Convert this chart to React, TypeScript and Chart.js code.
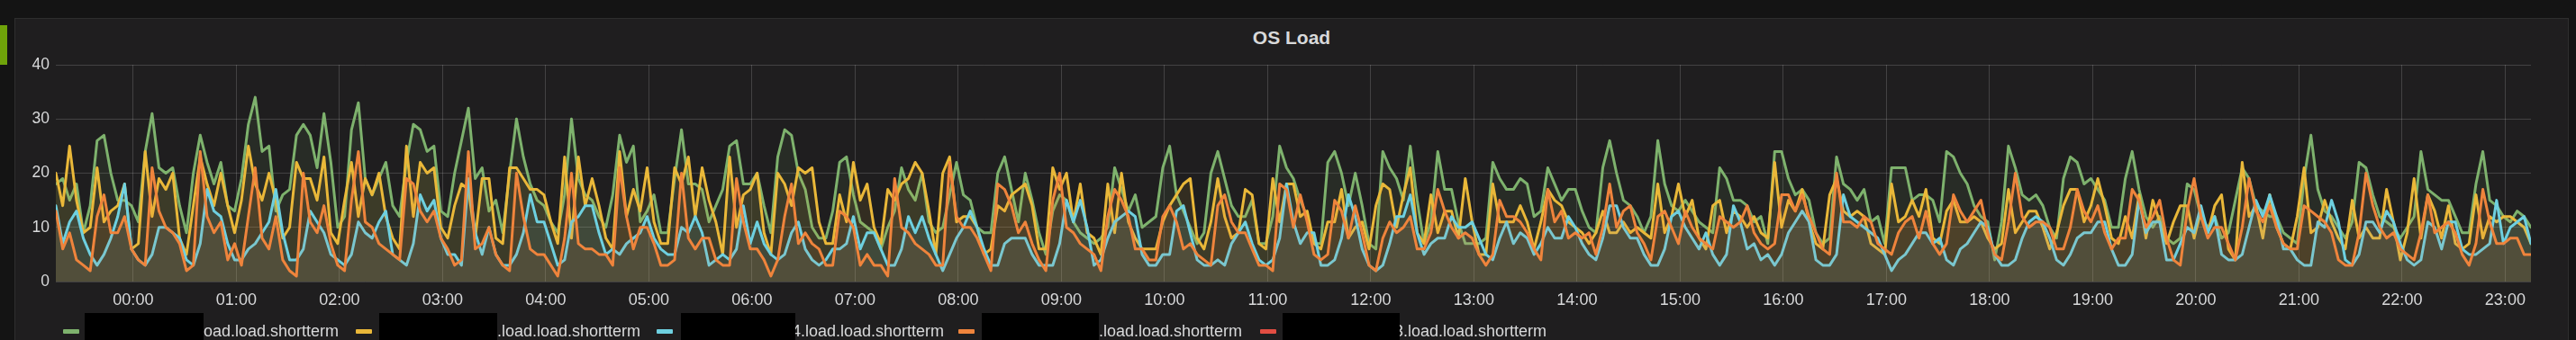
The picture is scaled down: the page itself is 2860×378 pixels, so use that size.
import React, { useEffect, useRef } from 'react';
import { Chart, registerables } from 'chart.js';

Chart.register(...registerables);

// Time axis: minutes relative to 00:00, one sample every 4 minutes from 23:15 (previous day)
const startMinute = -45;
const stepMinutes = 4;
const rangeMin = -45;
const rangeMax = 1395;

const hourTickMinutes = [0, 60, 120, 180, 240, 300, 360, 420, 480, 540, 600, 660, 720, 780, 840, 900, 960, 1020, 1080, 1140, 1200, 1260, 1320, 1380];
const hourLabels = ['00:00', '01:00', '02:00', '03:00', '04:00', '05:00', '06:00', '07:00', '08:00', '09:00', '10:00', '11:00', '12:00', '13:00', '14:00', '15:00', '16:00', '17:00', '18:00', '19:00', '20:00', '21:00', '22:00', '23:00'];
const yTickValues = [0, 10, 20, 30, 40];

const greenLoad = [
  18, 19, 15, 18, 9, 14, 26, 27, 20, 15, 15, 14, 11, 24, 31, 21, 20, 21, 14, 9, 20, 27, 22, 18, 22, 14, 13, 19, 29, 34, 24, 25, 13, 16, 17, 27, 29, 27, 21, 31, 22, 10, 12, 28, 33, 19, 16, 19, 22, 14, 12, 22, 29, 28, 24, 25, 13, 12, 20, 26,
  32, 19, 21, 13, 15, 9, 20, 30, 23, 18, 15, 14, 11, 9, 16, 30, 19, 16, 15, 12, 10, 16, 27, 22, 25, 11, 13, 16, 9, 9, 19, 28, 18, 18, 17, 11, 14, 17, 25, 26, 18, 18, 20, 14, 9, 23, 28, 27, 20, 17, 10, 8, 8, 13, 22, 23, 16, 11, 10, 9,
  6, 10, 13, 21, 17, 15, 20, 11, 9, 10, 16, 22, 16, 15, 10, 9, 9, 20, 23, 17, 11, 20, 15, 9, 5, 13, 16, 15, 11, 9, 8, 7, 8, 10, 21, 17, 13, 16, 10, 11, 12, 21, 25, 16, 13, 10, 7, 9, 20, 24, 19, 14, 12, 12, 15, 7, 7, 12, 25, 21,
  19, 15, 12, 7, 7, 22, 24, 20, 14, 20, 14, 7, 6, 24, 21, 19, 15, 25, 15, 7, 11, 24, 17, 17, 11, 7, 7, 7, 8, 22, 19, 17, 17, 19, 18, 12, 13, 21, 18, 15, 17, 17, 13, 10, 9, 21, 26, 20, 15, 14, 12, 9, 12, 26, 18, 14, 13, 15, 13, 11,
  10, 9, 21, 19, 15, 15, 14, 11, 12, 7, 24, 24, 19, 16, 17, 15, 9, 7, 8, 23, 18, 17, 15, 17, 11, 12, 7, 21, 21, 21, 15, 16, 16, 15, 11, 24, 23, 20, 18, 14, 12, 11, 4, 11, 25, 21, 16, 15, 16, 14, 10, 8, 19, 23, 22, 18, 19, 17, 15, 10,
  10, 19, 24, 17, 12, 10, 12, 8, 7, 8, 18, 17, 12, 10, 12, 8, 9, 15, 21, 19, 14, 13, 12, 12, 9, 8, 7, 19, 27, 17, 13, 12, 10, 8, 11, 22, 21, 16, 12, 11, 10, 8, 10, 12, 24, 17, 16, 15, 15, 12, 9, 9, 18, 24, 15, 14, 12, 11, 13, 12, 10,
];

const yellowLoad = [
  20, 14, 25, 15, 9, 10, 21, 11, 13, 14, 18, 6, 7, 24, 12, 19, 17, 20, 8, 5, 14, 23, 18, 14, 20, 14, 9, 15, 25, 18, 15, 20, 15, 8, 10, 22, 19, 19, 15, 23, 9, 7, 15, 22, 12, 19, 16, 20, 12, 8, 6, 25, 12, 22, 20, 21, 10, 8, 14, 18,
  17, 8, 19, 19, 8, 7, 21, 21, 19, 17, 17, 16, 11, 7, 23, 8, 23, 14, 19, 14, 8, 6, 24, 12, 17, 13, 21, 11, 7, 7, 21, 18, 23, 12, 21, 15, 11, 5, 23, 10, 16, 17, 20, 9, 5, 20, 18, 14, 21, 20, 21, 11, 7, 7, 16, 11, 22, 15, 18, 10,
  7, 17, 15, 18, 19, 22, 20, 13, 5, 20, 23, 11, 12, 12, 10, 5, 6, 14, 13, 16, 17, 18, 14, 6, 6, 21, 17, 20, 11, 18, 9, 8, 5, 18, 9, 20, 11, 8, 6, 6, 6, 11, 14, 16, 18, 19, 8, 6, 11, 19, 12, 8, 9, 17, 16, 7, 6, 19, 11, 18,
  18, 12, 13, 7, 6, 11, 11, 17, 8, 10, 11, 6, 14, 18, 17, 10, 16, 21, 9, 7, 16, 9, 13, 13, 8, 19, 11, 5, 5, 18, 11, 11, 11, 14, 11, 6, 11, 17, 15, 14, 11, 10, 9, 7, 9, 13, 9, 9, 11, 9, 10, 9, 8, 18, 9, 12, 18, 12, 15, 8,
  6, 14, 15, 9, 13, 12, 10, 12, 9, 8, 22, 10, 15, 13, 17, 11, 7, 6, 16, 19, 13, 12, 13, 12, 7, 6, 5, 18, 11, 12, 15, 12, 17, 8, 7, 13, 15, 11, 11, 12, 11, 8, 6, 7, 17, 9, 11, 13, 13, 10, 6, 9, 14, 17, 17, 11, 14, 19, 14, 8,
  7, 12, 8, 16, 8, 15, 11, 7, 11, 14, 14, 8, 13, 9, 14, 16, 6, 4, 22, 12, 14, 8, 16, 10, 7, 6, 12, 21, 9, 10, 15, 11, 8, 6, 15, 8, 10, 8, 8, 17, 11, 4, 9, 19, 8, 16, 13, 8, 14, 7, 6, 7, 16, 8, 12, 11, 12, 12, 11, 10, 7,
];

const cyanLoad = [
  14, 7, 11, 13, 8, 5, 3, 5, 8, 12, 18, 6, 4, 3, 5, 10, 10, 9, 8, 4, 3, 7, 17, 13, 12, 7, 4, 4, 6, 7, 9, 11, 17, 9, 4, 4, 6, 13, 11, 9, 5, 4, 3, 5, 11, 9, 8, 11, 13, 5, 4, 3, 7, 16, 13, 15, 8, 5, 5, 3,
  19, 9, 5, 10, 5, 3, 3, 5, 9, 16, 11, 11, 7, 3, 4, 11, 12, 14, 14, 9, 5, 6, 5, 7, 8, 9, 12, 8, 6, 5, 5, 10, 9, 12, 9, 3, 4, 5, 4, 6, 14, 7, 11, 7, 5, 4, 5, 9, 11, 6, 4, 3, 4, 6, 6, 7, 12, 6, 9, 9,
  6, 3, 3, 6, 12, 9, 12, 8, 5, 2, 5, 8, 10, 13, 10, 6, 3, 3, 7, 8, 8, 8, 5, 3, 3, 3, 7, 15, 11, 15, 10, 3, 4, 8, 11, 12, 13, 12, 5, 3, 3, 5, 5, 13, 14, 9, 4, 3, 3, 4, 3, 7, 9, 11, 7, 4, 3, 4, 8, 18,
  11, 7, 9, 9, 3, 3, 4, 8, 16, 12, 6, 3, 2, 3, 7, 12, 12, 16, 9, 5, 7, 8, 8, 12, 10, 10, 11, 8, 5, 4, 8, 11, 7, 9, 8, 5, 7, 10, 8, 8, 12, 10, 7, 5, 4, 8, 14, 14, 10, 8, 8, 5, 3, 3, 6, 12, 13, 10, 8, 6,
  9, 5, 3, 5, 14, 11, 6, 7, 4, 5, 3, 5, 9, 11, 13, 11, 4, 3, 3, 5, 16, 12, 11, 10, 9, 8, 5, 2, 4, 5, 7, 9, 9, 7, 8, 4, 3, 6, 7, 9, 11, 10, 5, 3, 3, 4, 8, 11, 12, 11, 8, 4, 3, 5, 8, 9, 9, 11, 11, 6,
  3, 3, 5, 15, 9, 11, 11, 4, 4, 7, 10, 9, 14, 9, 12, 5, 4, 4, 5, 10, 15, 12, 16, 12, 6, 6, 4, 3, 3, 11, 10, 15, 11, 4, 3, 5, 11, 11, 9, 13, 11, 7, 4, 3, 4, 11, 10, 6, 11, 11, 6, 5, 5, 6, 7, 15, 7, 10, 11, 12, 7,
];

const orangeLoad = [
  13, 6, 9, 4, 3, 2, 12, 16, 9, 9, 12, 6, 4, 3, 21, 13, 10, 9, 7, 2, 3, 24, 12, 9, 11, 4, 7, 3, 12, 21, 8, 6, 12, 4, 2, 1, 20, 11, 9, 14, 7, 3, 2, 15, 24, 11, 10, 7, 6, 5, 4, 19, 18, 13, 11, 13, 8, 6, 3, 4,
  24, 6, 7, 10, 5, 3, 2, 20, 12, 6, 5, 5, 3, 1, 8, 20, 7, 6, 6, 5, 5, 3, 21, 12, 6, 10, 10, 7, 3, 3, 4, 20, 8, 6, 8, 8, 4, 3, 3, 19, 11, 6, 6, 4, 1, 4, 12, 18, 7, 9, 7, 6, 3, 3, 13, 12, 10, 3, 5, 3,
  3, 1, 19, 10, 9, 7, 6, 5, 3, 3, 22, 12, 10, 10, 8, 5, 2, 18, 17, 14, 9, 11, 7, 4, 2, 15, 20, 10, 9, 7, 6, 5, 2, 12, 17, 15, 12, 6, 6, 4, 4, 12, 14, 11, 6, 7, 5, 4, 3, 14, 16, 11, 9, 9, 6, 3, 3, 2, 18, 17,
  10, 16, 11, 5, 4, 5, 15, 13, 8, 14, 9, 3, 2, 8, 11, 9, 10, 12, 6, 6, 9, 17, 13, 10, 8, 9, 8, 5, 3, 5, 15, 12, 12, 11, 9, 6, 4, 17, 11, 13, 8, 9, 8, 9, 5, 10, 18, 10, 13, 14, 9, 7, 4, 12, 13, 10, 7, 13, 10, 8,
  7, 6, 12, 11, 10, 11, 14, 9, 7, 6, 7, 16, 16, 13, 16, 12, 9, 6, 5, 20, 11, 11, 10, 12, 11, 7, 6, 5, 9, 11, 12, 8, 13, 7, 5, 7, 16, 13, 11, 13, 15, 9, 5, 4, 11, 20, 12, 10, 11, 11, 10, 6, 6, 10, 17, 13, 11, 14, 9, 6,
  8, 8, 17, 15, 10, 12, 15, 8, 4, 3, 13, 19, 12, 8, 10, 10, 7, 4, 10, 19, 13, 11, 14, 10, 7, 6, 6, 14, 13, 12, 11, 9, 4, 3, 3, 9, 20, 14, 10, 8, 9, 6, 5, 4, 9, 16, 9, 10, 11, 9, 5, 3, 7, 17, 11, 7, 7, 8, 8, 5, 5,
];

const redLoad: number[] = [];

const seriesColors = ['#7EB26D', '#EAB839', '#6ED0E0', '#EF843C', '#E24D42'];
const seriesFills = ['rgba(126,178,109,0.1)', 'rgba(234,184,57,0.1)', 'rgba(110,208,224,0.1)', 'rgba(239,132,60,0.1)', 'rgba(226,77,66,0.1)'];
const seriesLabels = ['oad.load.shortterm', '.load.load.shortterm', '4.load.load.shortterm', '.load.load.shortterm', '3.load.load.shortterm'];

// legend layout (left edges in px of swatch, redaction box start/end, text start)
const legendLayout = [
  { swatch: 70, boxL: 94, boxR: 226, text: 226 },
  { swatch: 395, boxL: 421, boxR: 552, text: 552 },
  { swatch: 729, boxL: 756, boxR: 883, text: 879 },
  { swatch: 1064, boxL: 1090, boxR: 1220, text: 1220 },
  { swatch: 1399, boxL: 1424, boxR: 1554, text: 1548 },
];

const FONT = '"Liberation Sans", Arial, Helvetica, sans-serif';
const TEXT = '#d8d9da';
const GRID = 'rgba(255,255,255,0.16)';

function toPoints(values: number[]) {
  return values.map((v, i) => ({ x: startMinute + i * stepMinutes, y: v }));
}

export default function App() {
  const canvasRef = useRef<HTMLCanvasElement | null>(null);

  useEffect(() => {
    document.body.style.margin = '0';
    document.body.style.background = '#141414';
    const canvas = canvasRef.current;
    if (!canvas) return;
    const all = [greenLoad, yellowLoad, cyanLoad, orangeLoad, redLoad];
    const datasets = all.map((vals, i) => ({
      label: seriesLabels[i],
      data: toPoints(vals),
      borderColor: seriesColors[i],
      backgroundColor: seriesFills[i],
      borderWidth: 3,
      borderJoinStyle: 'round',
      borderCapStyle: 'round',
      fill: 'origin',
      pointRadius: 0,
      tension: 0,
      order: all.length - i,
    }));
    const chart = new Chart(canvas, {
      type: 'line',
      data: { datasets: datasets as any },
      options: {
        animation: false,
        responsive: false,
        maintainAspectRatio: false,
        devicePixelRatio: 1,
        parsing: false as any,
        normalized: true,
        layout: { padding: { left: 0, right: 50, top: 72, bottom: 0 } },
        plugins: {
          legend: { display: false },
          tooltip: { enabled: false },
          title: { display: false },
        },
        scales: {
          x: {
            type: 'linear',
            min: rangeMin,
            max: rangeMax,
            afterBuildTicks: (axis: any) => {
              axis.ticks = hourTickMinutes.map((v) => ({ value: v }));
            },
            afterFit: (scale: any) => {
              scale.height = 65;
            },
            ticks: {
              autoSkip: false,
              maxRotation: 0,
              minRotation: 0,
              padding: 10,
              color: TEXT,
              font: { family: FONT, size: 18 },
              callback: (_v: any, idx: number) => hourLabels[idx],
            },
            grid: { color: GRID, drawTicks: false, lineWidth: 1 },
            border: { display: false },
          },
          y: {
            min: 0,
            max: 40,
            afterBuildTicks: (axis: any) => {
              axis.ticks = yTickValues.map((v) => ({ value: v }));
            },
            afterFit: (scale: any) => {
              scale.width = 62;
            },
            ticks: {
              padding: 7,
              color: TEXT,
              font: { family: FONT, size: 17.5 },
              callback: (v: any) => String(v),
            },
            grid: { color: GRID, drawTicks: false, lineWidth: 1 },
            border: { display: false },
          },
        },
      } as any,
    });
    return () => chart.destroy();
  }, []);

  return (
    <div style={{ position: 'relative', width: 2860, height: 378, overflow: 'hidden', background: '#141414', fontFamily: FONT }}>
      <div style={{ position: 'absolute', left: 0, top: 28, width: 8, height: 44, background: '#6fa30a' }} />
      <div
        style={{
          position: 'absolute',
          left: 16,
          top: 20,
          width: 2836,
          height: 380,
          background: '#1f1e1f',
          borderTop: '1px solid #2e2e2e',
          borderLeft: '1px solid #2e2e2e',
          borderRight: '1px solid #2e2e2e',
          boxSizing: 'border-box',
        }}
      />
      <div
        style={{
          position: 'absolute',
          left: 16,
          width: 2836,
          top: 31,
          textAlign: 'center',
          color: TEXT,
          fontWeight: 'bold',
          fontSize: 21,
          lineHeight: '21px',
        }}
      >
        OS Load
      </div>
      <canvas ref={canvasRef} width={2860} height={378} style={{ position: 'absolute', left: 0, top: 0, width: 2860, height: 378 }} />
      {legendLayout.map((it, i) => (
        <React.Fragment key={i}>
          <div style={{ position: 'absolute', left: it.swatch, top: 366, width: 18, height: 5, borderRadius: 1, background: seriesColors[i] }} />
          <div style={{ position: 'absolute', left: it.text, top: 359, color: TEXT, fontSize: 18, lineHeight: '18px', whiteSpace: 'nowrap' }}>
            {seriesLabels[i]}
          </div>
          <div style={{ position: 'absolute', left: it.boxL, top: 348, width: it.boxR - it.boxL, height: 30, background: '#000' }} />
        </React.Fragment>
      ))}
    </div>
  );
}
